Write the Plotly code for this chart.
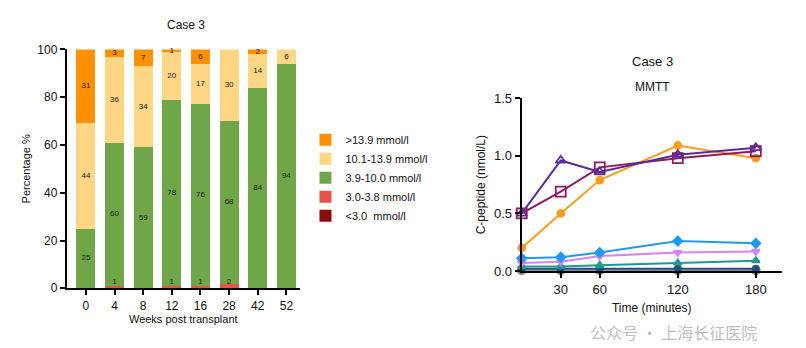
import plotly.graph_objects as go

# ---------- Left chart data ----------
weeks = ["0", "4", "8", "12", "16", "28", "42", "52"]
lt30 = [0, 0, 0, 0, 0, 0, 0, 0]
r30_38 = [0, 1, 0, 1, 1, 2, 0, 0]
r39_100 = [25, 60, 59, 78, 76, 68, 84, 94]
r101_139 = [44, 36, 34, 20, 17, 30, 14, 6]
gt139 = [31, 3, 7, 1, 6, 0, 2, 0]
series_names = ["<3.0  mmol/l", "3.0-3.8 mmol/l", "3.9-10.0 mmol/l", "10.1-13.9 mmol/l", ">13.9 mmol/l"]
series_vals = [lt30, r30_38, r39_100, r101_139, gt139]
series_cols = ["#8B0A0A", "#E8524A", "#6FA647", "#FFD683", "#FF9000"]

# ---------- Right chart data ----------
times = [0, 30, 60, 120, 180]
cp_orange = [0.20, 0.50, 0.79, 1.09, 0.98]
cp_purple = [0.50, 0.96, 0.86, 1.01, 1.07]
cp_maroon = [0.50, 0.69, 0.90, 0.98, 1.04]
cp_blue = [0.11, 0.12, 0.16, 0.26, 0.24]
cp_violet = [0.07, 0.08, 0.13, 0.16, 0.17]
cp_teal = [0.04, 0.04, 0.05, 0.07, 0.09]
cp_navy = [0.02, 0.02, 0.02, 0.02, 0.02]
cp_gray = [0.005, 0.005, 0.005, 0.005, 0.005]

FONT = "Liberation Sans, Arial, sans-serif"
fig = go.Figure()

for name, vals, col in zip(series_names, series_vals, series_cols):
    fig.add_trace(go.Bar(x=weeks, y=vals, name=name, marker=dict(color=col, line=dict(width=0)),
                         width=0.66, xaxis="x", yaxis="y", hoverinfo="skip"))

# bar labels as text trace (positions computed from data)
lx, ly, lt = [], [], []
for i, w in enumerate(weeks):
    base = 0
    for vals in series_vals:
        v = vals[i]
        if v > 0:
            lx.append(w)
            ly.append(max(base + v / 2, 2.6))
            lt.append(str(v))
        base += v
fig.add_trace(go.Scatter(x=lx, y=ly, text=lt, mode="text", textposition="middle center",
                         textfont=dict(size=8, color="#1a1a1a", family=FONT),
                         showlegend=False, xaxis="x", yaxis="y", hoverinfo="skip", cliponaxis=False))

# right chart lines
line_specs = [
    (cp_gray, "#8A8A8A", "circle", 8),
    (cp_navy, "#2B4C7E", "circle", 6),
    (cp_teal, "#1E9A8C", "triangle-up", 7),
    (cp_violet, "#D782F5", "triangle-down", 7),
    (cp_blue, "#1E9BF0", "diamond", 7),
    (cp_orange, "#F99D1C", "circle", 7),
    (cp_maroon, "#8E1B5E", "square-open", 10),
    (cp_purple, "#5A2A9A", "triangle-up-open", 9),
]
for ys, col, sym, sz in line_specs:
    fig.add_trace(go.Scatter(x=times, y=ys, mode="lines+markers",
                             line=dict(color=col, width=2),
                             marker=dict(symbol=sym, size=sz, color=col, line=dict(color=col, width=1.8)),
                             showlegend=False, xaxis="x2", yaxis="y2", cliponaxis=False, hoverinfo="skip"))

axis_common = dict(showgrid=False, zeroline=False, showline=True, linecolor="black", linewidth=2,
                   ticks="outside", tickcolor="black", tickwidth=2, ticklen=5, automargin=False,
                   tickfont=dict(family=FONT, size=12, color="#111"))

fig.update_layout(
    width=806, height=348, margin=dict(l=0, r=0, t=0, b=0, autoexpand=False),
    paper_bgcolor="white", plot_bgcolor="white",
    barmode="stack", bargap=0.34,
    font=dict(family=FONT, color="#111"),
    xaxis=dict(domain=[0.0828, 0.372], range=[-0.67, 7.47], type="category", anchor="y",
               title=dict(text="Weeks post transplant", font=dict(size=11), standoff=3), **axis_common),
    yaxis=dict(domain=[0.1716, 0.858], range=[0, 100], tickvals=[0, 20, 40, 60, 80, 100], anchor="x",
               title=dict(text="Percentage %", font=dict(size=11), standoff=4), **axis_common),
    xaxis2=dict(domain=[0.6473, 0.970], range=[0, 200], tickvals=[30, 60, 120, 180], anchor="y2",
                title=dict(text="Time (minutes)", font=dict(size=12), standoff=8),
                **{**axis_common, "tickfont": dict(family=FONT, size=13, color="#111")}),
    yaxis2=dict(domain=[0.2213, 0.7175], range=[0, 1.5], tickvals=[0, 0.5, 1.0, 1.5],
                ticktext=["0.0", "0.5", "1.0", "1.5"], anchor="x2",
                title=dict(text="C-peptide (nmol/L)", font=dict(size=12), standoff=6),
                **{**axis_common, "tickfont": dict(family=FONT, size=13, color="#111")}),
    legend=dict(x=0.379, y=0.64, xanchor="left", yanchor="top", traceorder="reversed",
                font=dict(family=FONT, size=11, color="#111"), bgcolor="rgba(0,0,0,0)",
                itemwidth=30, tracegroupgap=0),
    annotations=[
        dict(text="Case 3", x=0.2308, y=0.928, xref="paper", yref="paper", showarrow=False,
             font=dict(size=12, family=FONT), xanchor="center", yanchor="middle"),
        dict(text="Case 3", x=0.809, y=0.822, xref="paper", yref="paper", showarrow=False,
             font=dict(size=13, family=FONT), xanchor="center", yanchor="middle"),
        dict(text="MMTT", x=0.809, y=0.75, xref="paper", yref="paper", showarrow=False,
             font=dict(size=12, family=FONT), xanchor="center", yanchor="middle"),
        dict(text="公众号 · 上海长征医院", x=0.835, y=0.045, xref="paper", yref="paper", showarrow=False,
             font=dict(size=16, family="Noto Sans CJK SC", color="rgba(160,160,160,0.7)"),
             xanchor="center", yanchor="middle"),
    ],
)

fig.write_html("out.html")
